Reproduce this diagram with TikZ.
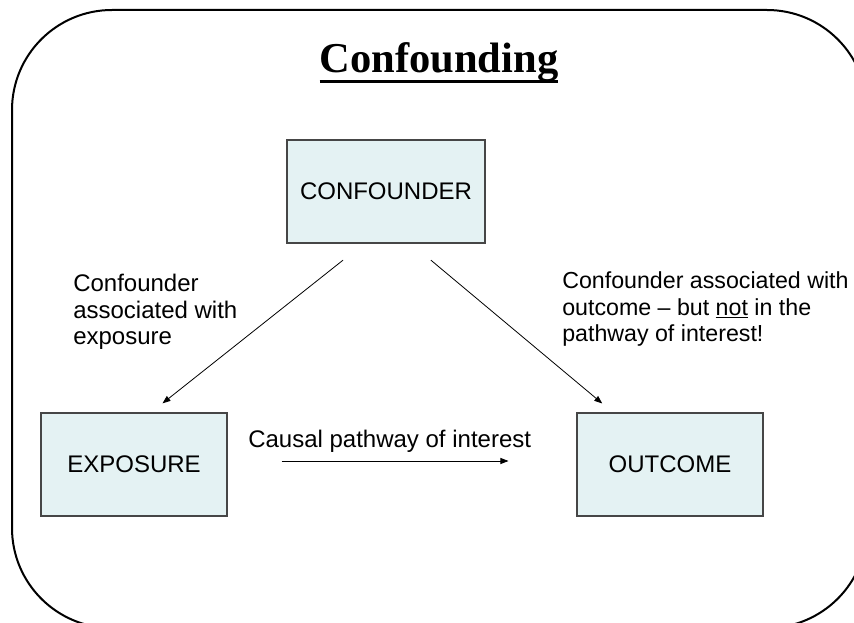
\documentclass[tikz,border=0pt]{standalone}
\usepackage{fontspec}
\setmainfont{Liberation Serif}
\newfontfamily\arialfont{Liberation Sans}
\usetikzlibrary{arrows.meta,calc}

\definecolor{boxfill}{RGB}{228,242,243}
\definecolor{boxline}{RGB}{70,70,70}

% underlined title with a heavier rule
\newcommand\titleul[1]{{\setbox0=\hbox{#1}\rlap{\rule[-7.2pt]{\wd0}{1.9pt}}\box0}}

\begin{document}
\begin{tikzpicture}[x=0.75pt,y=-0.75pt,
  varbox/.style={draw=boxline,line width=0.8pt,fill=boxfill,inner sep=0pt,
    minimum height=77.25pt,font=\arialfont\fontsize{18}{21}\selectfont},
  labeltext/.style={inner sep=0pt,align=left,anchor=base west,
    font=\arialfont\fontsize{18}{20}\selectfont},
  link/.style={line width=0.6pt,-{Triangle[length=6pt,width=4.5pt]}}]

  \clip (0,0) rectangle (854,623);

  % outer frame, running past the right and bottom edges
  \draw[line width=1.5pt,rounded corners=75pt] (12,10) rectangle (867,628);

  % title
  \node[anchor=base,inner sep=0pt,font=\bfseries\fontsize{31.9}{38}\selectfont]
    (title) at (439,73) {\titleul{Confounding}};

  % variables
  \node[varbox,minimum width=148.5pt] (conf) at (386,191.5) {CONFOUNDER};
  \node[varbox,minimum width=139.5pt] (exp) at (134,464.5) {EXPOSURE};
  \node[varbox,minimum width=139.5pt] (out) at (670,464.5) {OUTCOME};

  % arrows
  \draw[link,shorten <=20pt,shorten >=11pt]
    ($(conf.south)+(-22,0)$) -- ($(exp.north)+(17,0)$);
  \draw[link,shorten <=19.5pt,shorten >=10.5pt]
    ($(conf.south)+(25,0)$) -- ($(out.north)+(-57,0)$);
  \draw[link,shorten <=40.5pt,shorten >=51pt]
    ($(exp.east)+(0,-3.5)$) -- ($(out.west)+(0,-3.5)$);

  % labels (base anchor sits on the last line)
  \node[labeltext] (lblexp) at (73,345) {Confounder\\associated with\\exposure};
  \node[labeltext,font=\arialfont\fontsize{17.4}{20}\selectfont] (lblout) at (562,342)
    {Confounder associated with\\outcome – but \underline{not} in the\\pathway of interest!};
  \node[labeltext] (lblcausal) at (248,448) {Causal pathway of interest};
\end{tikzpicture}
\end{document}
